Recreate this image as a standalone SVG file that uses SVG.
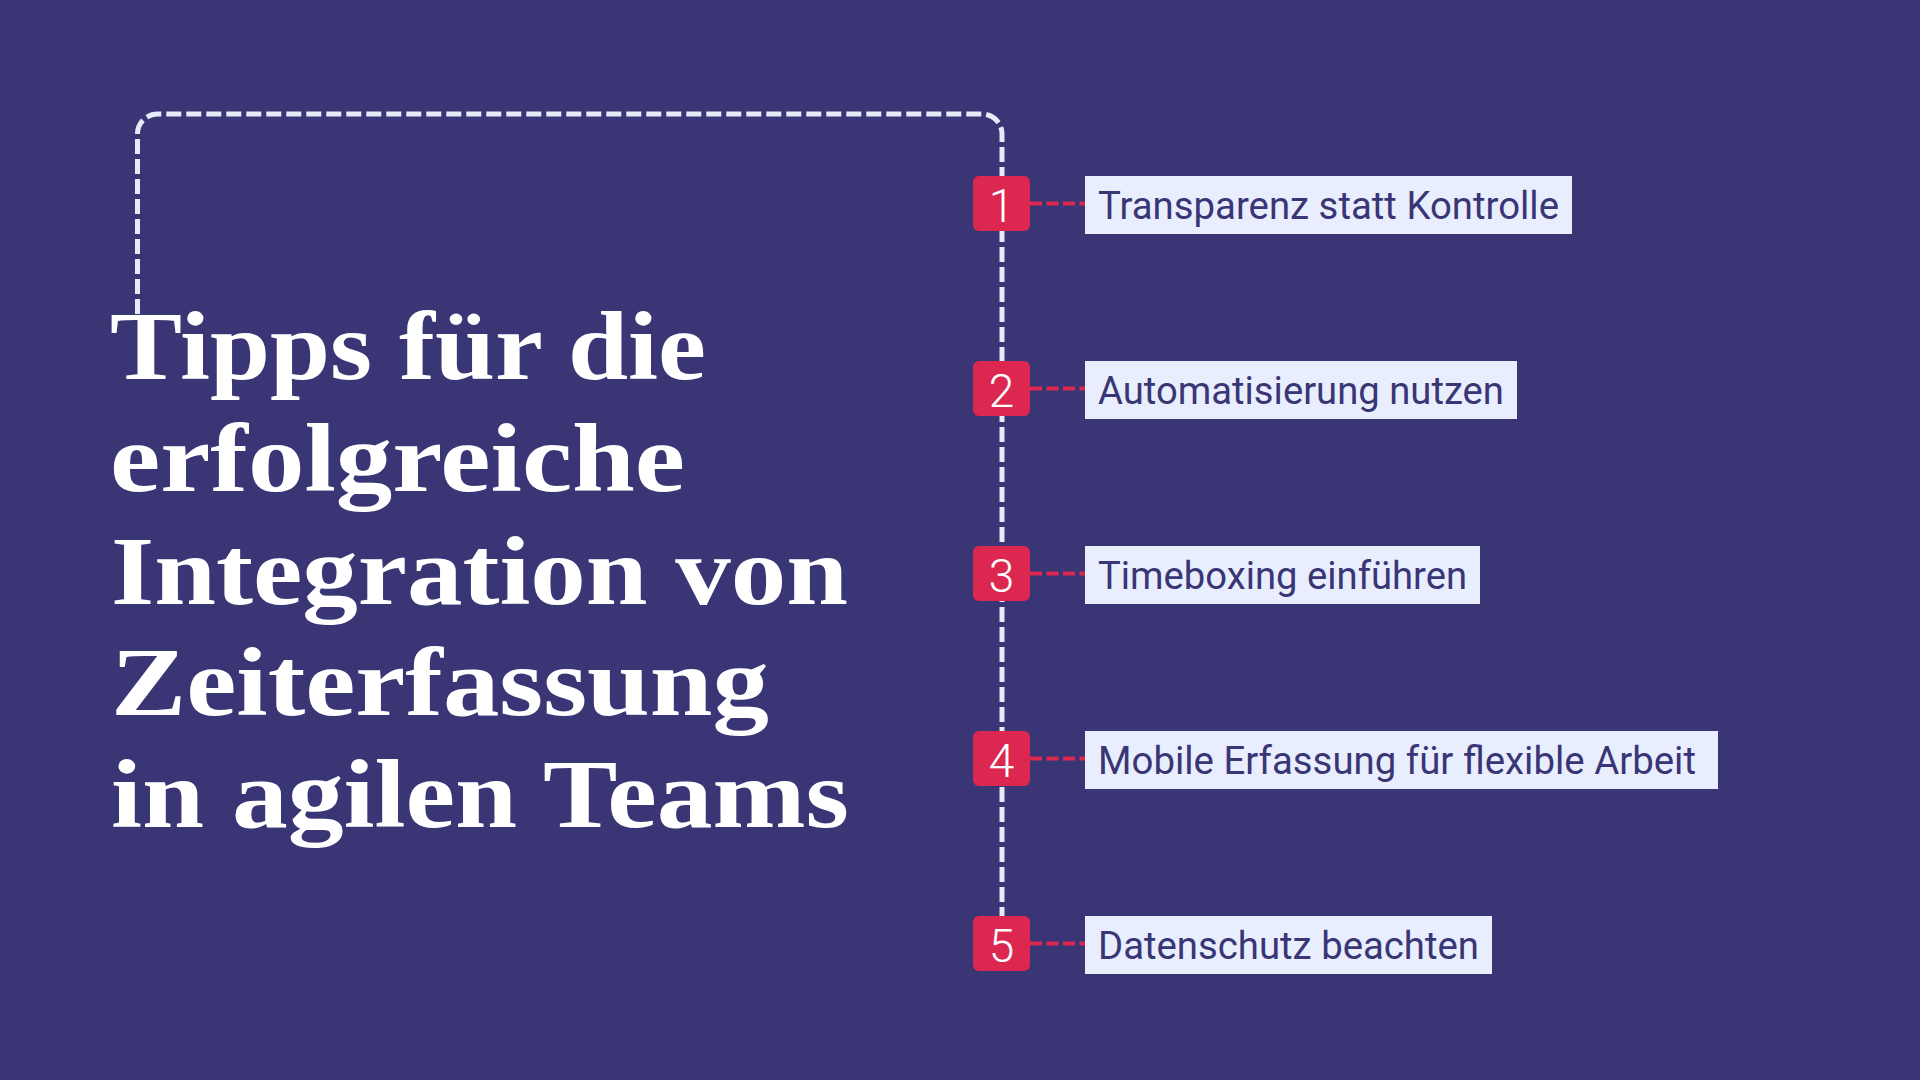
<svg xmlns="http://www.w3.org/2000/svg" width="1920" height="1080" viewBox="0 0 1920 1080">
  <defs>
    <style>
      .bg { fill: #3a3575; }
      .spine { fill: none; stroke: #e6ebfa; stroke-width: 5; stroke-dasharray: 15 5; }
      .link { fill: none; stroke: #dc2850; stroke-width: 4; stroke-dasharray: 12 4.5; }
      .badge { fill: #dc2850; }
      .num { font-family: Roboto, "Liberation Sans", sans-serif; font-weight: 300; font-size: 46px; fill: #ffffff; text-anchor: middle; }
      .box { fill: #e8eefe; }
      .lbl { font-family: Roboto, "Liberation Sans", sans-serif; font-size: 38px; fill: #3a3575; }
      .title { font-family: "Liberation Serif", "DejaVu Serif", serif; font-weight: bold; font-size: 97px; fill: #ffffff; }
    </style>
  </defs>
  <rect class="bg" x="0" y="0" width="1920" height="1080"/>

  <g id="connectors">
    <path class="spine" d="M137.5,314 V134 A20,20 0 0 1 157.5,114 H982 A20,20 0 0 1 1002,134 V917"/>
    <line class="link" x1="1030" y1="203.5" x2="1085" y2="203.5"/>
    <line class="link" x1="1030" y1="388.5" x2="1085" y2="388.5"/>
    <line class="link" x1="1030" y1="573.5" x2="1085" y2="573.5"/>
    <line class="link" x1="1030" y1="758.5" x2="1085" y2="758.5"/>
    <line class="link" x1="1030" y1="943.5" x2="1085" y2="943.5"/>
  </g>

  <g id="title">
    <text class="title" x="110" y="379" textLength="596" lengthAdjust="spacingAndGlyphs">Tipps für die</text>
    <text class="title" x="110" y="491" textLength="575" lengthAdjust="spacingAndGlyphs">erfolgreiche</text>
    <text class="title" x="111" y="604" textLength="737" lengthAdjust="spacingAndGlyphs">Integration von</text>
    <text class="title" x="111" y="715" textLength="658" lengthAdjust="spacingAndGlyphs">Zeiterfassung</text>
    <text class="title" x="111" y="827" textLength="738" lengthAdjust="spacingAndGlyphs">in agilen Teams</text>
  </g>

  <g id="badge-1">
    <rect class="badge" x="973" y="176" width="57" height="55" rx="6"/>
    <text class="num" x="1001.5" y="222">1</text>
  </g>
  <g id="item-1">
    <rect class="box" x="1085" y="176" width="487" height="58"/>
    <text class="lbl" x="1098" y="219" textLength="461" lengthAdjust="spacingAndGlyphs">Transparenz statt Kontrolle</text>
  </g>

  <g id="badge-2">
    <rect class="badge" x="973" y="361" width="57" height="55" rx="6"/>
    <text class="num" x="1001.5" y="407">2</text>
  </g>
  <g id="item-2">
    <rect class="box" x="1085" y="361" width="432" height="58"/>
    <text class="lbl" x="1098" y="404" textLength="406" lengthAdjust="spacingAndGlyphs">Automatisierung nutzen</text>
  </g>

  <g id="badge-3">
    <rect class="badge" x="973" y="546" width="57" height="55" rx="6"/>
    <text class="num" x="1001.5" y="592">3</text>
  </g>
  <g id="item-3">
    <rect class="box" x="1085" y="546" width="395" height="58"/>
    <text class="lbl" x="1098" y="589" textLength="369" lengthAdjust="spacingAndGlyphs">Timeboxing einführen</text>
  </g>

  <g id="badge-4">
    <rect class="badge" x="973" y="731" width="57" height="55" rx="6"/>
    <text class="num" x="1001.5" y="777">4</text>
  </g>
  <g id="item-4">
    <rect class="box" x="1085" y="731" width="633" height="58"/>
    <text class="lbl" x="1098" y="774" textLength="598" lengthAdjust="spacingAndGlyphs">Mobile Erfassung für flexible Arbeit</text>
  </g>

  <g id="badge-5">
    <rect class="badge" x="973" y="916" width="57" height="55" rx="6"/>
    <text class="num" x="1001.5" y="962">5</text>
  </g>
  <g id="item-5">
    <rect class="box" x="1085" y="916" width="407" height="58"/>
    <text class="lbl" x="1098" y="959" textLength="381" lengthAdjust="spacingAndGlyphs">Datenschutz beachten</text>
  </g>
</svg>
